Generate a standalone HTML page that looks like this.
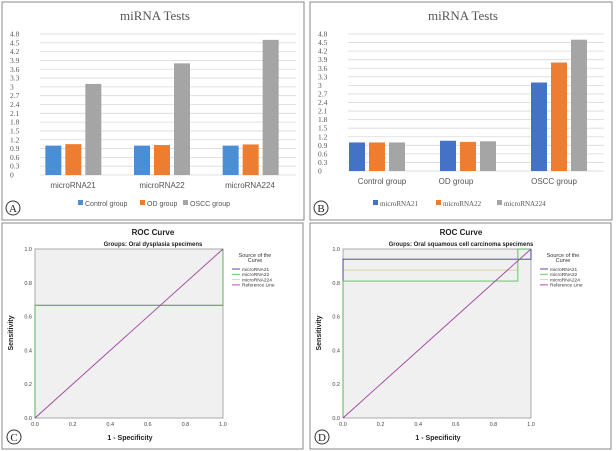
<!DOCTYPE html>
<html><head><meta charset="utf-8"><style>
body{margin:0;background:#fff;width:616px;height:451px;overflow:hidden;font-family:"Liberation Sans",sans-serif}
svg{position:absolute;left:0;top:0}
</style></head><body>
<svg id="s" width="616" height="451"></svg>
<script>
const catsA=["microRNA21","microRNA22","microRNA224"];
const seriesA=["Control group","OD group","OSCC group"];
const valsControl=[1.0,1.0,1.0];
const valsOD=[1.05,1.02,1.04];
const valsOSCC=[3.1,3.8,4.6];
const catsB=["Control group","OD group","OSCC group"];
const seriesB=["microRNA21","microRNA22","microRNA224"];
const valsMir21=[1.0,1.06,3.1];
const valsMir22=[1.0,1.02,3.8];
const valsMir224=[1.0,1.04,4.6];
const yTicks=[0,0.3,0.6,0.9,1.2,1.5,1.8,2.1,2.4,2.7,3,3.3,3.6,3.9,4.2,4.5,4.8];
const rocTicks=[0,0.2,0.4,0.6,0.8,1.0];
const rocNames=["microRNA21","microRNA22","microRNA224","Reference Line"];
const cMir21X=[0,0,1,1], cMir21Y=[0,0.667,0.667,1];
const cMir22X=[0,0,1,1], cMir22Y=[0,0.667,0.667,1];
const cMir224X=[0,0,1,1], cMir224Y=[0,0.667,0.667,1];
const dMir21X=[0,0,1,1], dMir21Y=[0,0.94,0.94,1];
const dMir22X=[0,0,0.93,0.93,1], dMir22Y=[0,0.81,0.81,1,1];
const dMir224X=[0,0,0.93,0.93,1], dMir224Y=[0,0.875,0.875,1,1];
const refX=[0,1], refY=[0,1];

const S=document.getElementById('s');const NS="http://www.w3.org/2000/svg";
function el(t,a,txt){const e=document.createElementNS(NS,t);for(const k in a)e.setAttribute(k,a[k]);if(txt!==undefined)e.textContent=txt;S.appendChild(e);return e;}
const barCols=["#4a8fd6","#ed7d31","#a5a5a5"];
const barColsB=["#4472c4","#ed7d31","#a5a5a5"];

function barPanel(ox,y0,bx0,bx1,cats,series,vals,cols,catLabelX,legX,letter){
  const x0=ox+bx0,x1=ox+bx1,yT=34;
  const Y=v=>y0-(v/4.8)*(y0-yT);
  let r=el('rect',{x:ox+2,y:2,width:302,height:218,fill:'#fff',stroke:'#888'});
  
  let t=el('text',{x:ox+155,y:20,'text-anchor':'middle','font-family':'Liberation Serif','font-size':13,fill:'#555'},'miRNA Tests');
  
  yTicks.forEach(v=>{
    let g=el('line',{x1:ox+40,x2:ox+296,y1:Y(v),y2:Y(v),stroke:'#d9d9d9','stroke-width':0.8});
    
    let l=el('text',{x:ox+10,y:Y(v)+2.5,'font-family':'Liberation Serif','font-size':7.5,fill:'#555'},String(v));
    
  });
  const cw=(x1-x0)/cats.length,bw=16,gap=4;
  cats.forEach((c,i)=>{
    const cx=x0+cw*(i+0.5);
    vals.forEach((arr,j)=>{
      const bx=cx-(bw*1.5+gap)+j*(bw+gap);
      let b=el('rect',{x:bx,y:Y(arr[i]),width:bw,height:y0-Y(arr[i]),fill:cols[j]});
      
      
    });
    let l=el('text',{x:ox+catLabelX[i],y:y0+13,'text-anchor':'middle','font-size':8,fill:'#555'},c);
    
  });
  series.forEach((s,j)=>{
    let m=el('rect',{x:ox+legX[j],y:200,width:5,height:5,fill:cols[j]});
    
    let l=el('text',{x:ox+legX[j]+7,y:206,'font-size':7,fill:'#555','font-family':letter==='B'?'Liberation Serif':'Liberation Sans'},s);
    
  });
  let c=el('circle',{cx:ox+13,cy:208,r:7,fill:'#fff',stroke:'#333'});
  
  let lt=el('text',{x:ox+13,y:212,'text-anchor':'middle','font-family':'Liberation Serif','font-size':11,fill:'#222'},letter);
  
}
barPanel(0,175,29,295,catsA,seriesA,[valsControl,valsOD,valsOSCC],barCols,[73,162,250],[78,140,183],'A');
barPanel(308,171,23.5,296.5,catsB,seriesB,[valsMir21,valsMir22,valsMir224],barColsB,[74,148,246],[65,128,189],'B');

const rocCols=["#3a3aa0","#5cbf5c","#d8d4a0","#a040a0"];
const drawOrder=[2,0,1,3];
function rocPanel(ox,sub,curves,letter){
  const x0=ox+35,x1=ox+223,yb=418,yt=249;
  const X=v=>x0+v*(x1-x0),Y=v=>yb-v*(yb-yt);
  let r=el('rect',{x:ox+2,y:223,width:301,height:226,fill:'#fff',stroke:'#888'});
  
  let t=el('text',{x:ox+153,y:235,'text-anchor':'middle','font-size':8,'font-weight':'bold',fill:'#222'},'ROC Curve');
  
  let st=el('text',{x:ox+153,y:246,'text-anchor':'middle','font-size':6,'font-weight':'bold',fill:'#222'},sub);
  
  let p=el('rect',{x:x0,y:yt,width:x1-x0,height:yb-yt,fill:'#f0f0f0',stroke:'#888','stroke-width':0.7});
  
  rocTicks.forEach(v=>{
    let a=el('text',{x:X(v),y:yb+8,'text-anchor':'middle','font-size':5.5,fill:'#444'},v.toFixed(1));
    
    let b=el('text',{x:x0-3,y:Y(v)+2,'text-anchor':'end','font-size':5.5,fill:'#444'},v.toFixed(1));
    
  });
  drawOrder.forEach(k=>{
    const cv=curves[k];
    const pts=cv[0].map((x,i)=>X(x)+','+Y(cv[1][i])).join(' ');
    let l=el('polyline',{points:pts,fill:'none',stroke:rocCols[k],'stroke-width':0.9});
    
    
  });
  let xa=el('text',{x:ox+130,y:440,'text-anchor':'middle','font-size':7,'font-weight':'bold',fill:'#222'},'1 - Specificity');
  
  let ya=el('text',{x:0,y:0,'text-anchor':'middle','font-size':7,'font-weight':'bold',fill:'#222',transform:`translate(${ox+13},${333}) rotate(-90)`},'Sensitivity');
  
  let lg=el('text',{x:ox+255,y:257,'text-anchor':'middle','font-size':5.5,fill:'#333'},'Source of the');
  
  let lg2=el('text',{x:ox+255,y:262,'text-anchor':'middle','font-size':5.5,fill:'#333'},'Curve');
  
  rocNames.forEach((n,k)=>{
    const yy=269+k*5.3;
    let m=el('line',{x1:ox+232,x2:ox+240,y1:yy,y2:yy,stroke:rocCols[k],'stroke-width':0.9});
    
    let l=el('text',{x:ox+242,y:yy+1.8,'font-size':4.8,fill:'#333'},n);
    
  });
  let c=el('circle',{cx:ox+14,cy:437,r:7,fill:'#fff',stroke:'#333'});
  
  let lt=el('text',{x:ox+14,y:441,'text-anchor':'middle','font-family':'Liberation Serif','font-size':11,fill:'#222'},letter);
  
}
rocPanel(0,'Groups: Oral dysplasia specimens',[[cMir21X,cMir21Y],[cMir22X,cMir22Y],[cMir224X,cMir224Y],[refX,refY]],'C');
rocPanel(308,'Groups: Oral squamous cell carcinoma specimens',[[dMir21X,dMir21Y],[dMir22X,dMir22Y],[dMir224X,dMir224Y],[refX,refY]],'D');
</script>
</body></html>
